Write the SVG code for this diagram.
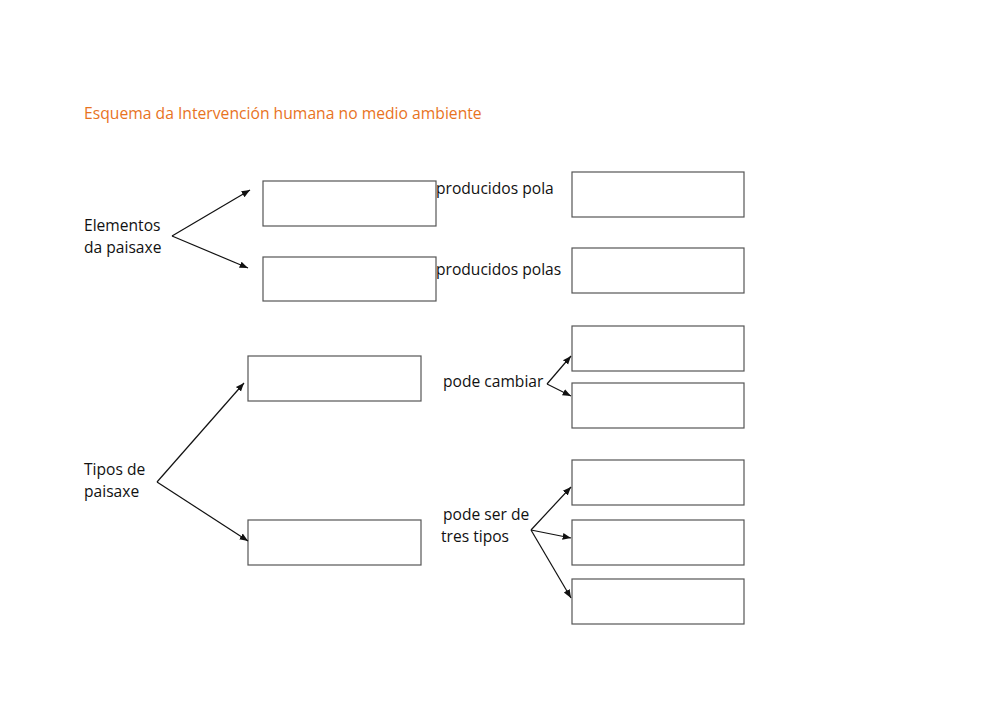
<svg xmlns="http://www.w3.org/2000/svg" width="1000" height="707" viewBox="0 0 1000 707">
<style>
.b{fill:#fff;stroke:#555;stroke-width:1.2}
.t{font-family:"Open Sans","DejaVu Sans",sans-serif;font-size:15.6px;fill:#111}
.c{stroke:#111;stroke-width:1.2;fill:none;marker-end:url(#a)}
</style>
<defs><marker id="a" viewBox="0 0 10 10" refX="10" refY="5" markerWidth="7" markerHeight="7" orient="auto"><path d="M0,1 L10,5 L0,9 z" fill="#111"/></marker></defs>
<rect width="1000" height="707" fill="#fff"/>
<text x="84" y="119" style="font-family:'Open Sans','DejaVu Sans',sans-serif;font-size:15.7px;fill:#e8731e">Esquema da Intervención humana no medio ambiente</text>
<g id="n1"><rect class="b" x="263" y="181" width="173" height="45"/></g>
<g id="n2"><rect class="b" x="263" y="257" width="173" height="44"/></g>
<g id="n3"><rect class="b" x="572" y="172" width="172" height="45"/></g>
<g id="n4"><rect class="b" x="572" y="248" width="172" height="45"/></g>
<g id="n5"><rect class="b" x="248" y="356" width="173" height="45"/></g>
<g id="n6"><rect class="b" x="248" y="520" width="173" height="45"/></g>
<g id="n7"><rect class="b" x="572" y="326" width="172" height="45"/></g>
<g id="n8"><rect class="b" x="572" y="383" width="172" height="45"/></g>
<g id="n9"><rect class="b" x="572" y="460" width="172" height="45"/></g>
<g id="n10"><rect class="b" x="572" y="520" width="172" height="45"/></g>
<g id="n11"><rect class="b" x="572" y="579" width="172" height="45"/></g>
<g id="labels">
<text class="t" x="84" y="231">Elementos</text><text class="t" x="84" y="253">da paisaxe</text>
<text class="t" x="84" y="475">Tipos de</text><text class="t" x="84" y="497">paisaxe</text>
<text class="t" x="436" y="194">producidos pola</text>
<text class="t" x="436" y="275">producidos polas</text>
<text class="t" x="443" y="387">pode cambiar</text>
<text class="t" x="443" y="520">pode ser de</text><text class="t" x="441" y="542">tres tipos</text>
</g>
<g id="connectors">
<path class="c" d="M172,236 L250,190"/>
<path class="c" d="M172,236 L248,268"/>
<path class="c" d="M157,482 L244,383"/>
<path class="c" d="M157,482 L248,541"/>
<path class="c" d="M547,384 L571,356"/>
<path class="c" d="M547,384 L571,396"/>
<path class="c" d="M531,530 L571,487"/>
<path class="c" d="M531,530 L571,538"/>
<path class="c" d="M531,530 L571,598"/>
</g>
</svg>
